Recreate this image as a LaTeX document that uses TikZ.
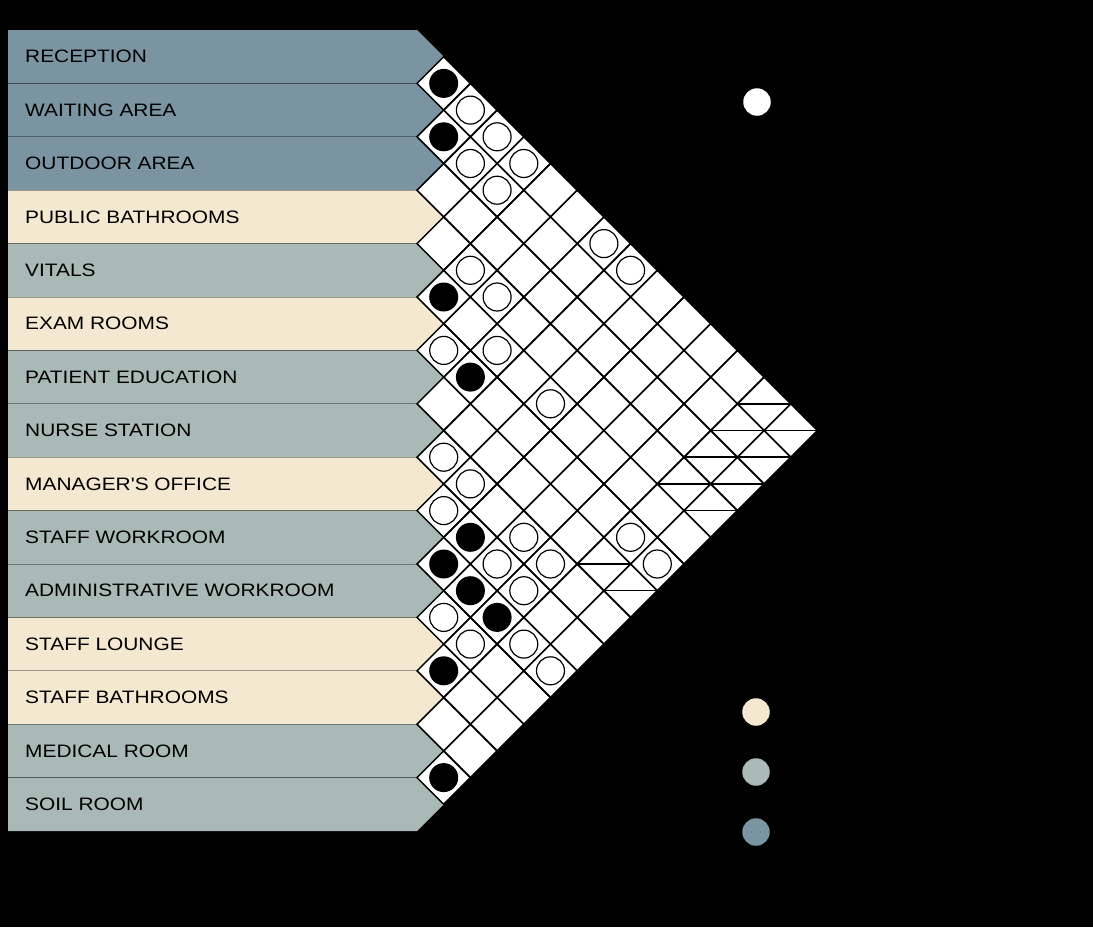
\documentclass[tikz,border=0pt]{standalone}
\usepackage{fontspec}
\newfontfamily\labfont[FakeStretch=1.16]{Liberation Sans}
\definecolor{cblue}{RGB}{122,149,161}
\definecolor{cbeige}{RGB}{245,232,208}
\definecolor{cgray}{RGB}{169,185,181}
\tikzset{
  labeltext/.style={anchor=west, inner sep=0pt, text=black, font=\labfont\fontsize{18}{21}\selectfont},
  sepline/.style={draw=black, draw opacity=0.35, line width=0.8pt},
  gridline/.style={draw=black, line width=1.5pt, line join=miter},
  dotfull/.style={circle, fill=black, minimum size=29pt, inner sep=0pt},
  dotopen/.style={circle, draw=black, fill=white, line width=1.2pt, minimum size=28pt, inner sep=0pt},
  legdot/.style={circle, minimum size=27.5pt, inner sep=0pt},
}
\begin{document}
\begin{tikzpicture}[x=1pt,y=-1pt]
\fill[black] (0,0) rectangle (1093,927);
\useasboundingbox (0,0) rectangle (1093,927);
% label rows
\foreach \n/\t/\c [count=\i] in {
  reception/RECEPTION/cblue,
  waiting/WAITING AREA/cblue,
  outdoor/OUTDOOR AREA/cblue,
  pubbath/PUBLIC BATHROOMS/cbeige,
  vitals/VITALS/cgray,
  exam/EXAM ROOMS/cbeige,
  pated/PATIENT EDUCATION/cgray,
  nurse/NURSE STATION/cgray,
  manager/MANAGER'S OFFICE/cbeige,
  staffwork/STAFF WORKROOM/cgray,
  adminwork/ADMINISTRATIVE WORKROOM/cgray,
  lounge/STAFF LOUNGE/cbeige,
  staffbath/STAFF BATHROOMS/cbeige,
  medical/MEDICAL ROOM/cgray,
  soil/SOIL ROOM/cgray}
{
  \pgfmathsetmacro\yt{30+53.4*(\i-1)}
  \pgfmathsetmacro\yc{\yt+26.7}
  \pgfmathsetmacro\yb{\yt+53.4}
  \fill[\c] (8,\yt) -- (417,\yt) -- (443.7,\yc) -- (417,\yb) -- (8,\yb) -- cycle;
  \node[labeltext] (\n) at (25,\yc) {\t};
}
\foreach \i in {1,...,14}{
  \pgfmathsetmacro\yb{30+53.4*\i}
  \draw[sepline] (8,\yb) -- (417,\yb);
}
% matrix cells: fill
\foreach \i in {1,...,14}{
  \pgfmathtruncatemacro\s{\i+1}
  \foreach \j in {\s,...,15}{
    \pgfmathsetmacro\cx{417+26.7*(\j-\i)}
    \pgfmathsetmacro\cy{30+26.7*(\i+\j-1)}
    \coordinate (c-\i-\j) at (\cx,\cy);
    \fill[white] (\cx-26.7,\cy) -- (\cx,\cy-26.7) -- (\cx+26.7,\cy) -- (\cx,\cy+26.7) -- cycle;
  }
}
% matrix cells: outline
\foreach \i in {1,...,14}{
  \pgfmathtruncatemacro\s{\i+1}
  \foreach \j in {\s,...,15}{
    \pgfmathsetmacro\cx{417+26.7*(\j-\i)}
    \pgfmathsetmacro\cy{30+26.7*(\i+\j-1)}
    \draw[gridline] (\cx-26.7,\cy) -- (\cx,\cy-26.7) -- (\cx+26.7,\cy) -- (\cx,\cy+26.7) -- cycle;
  }
}
% split cells
\foreach \i/\j in {1/14,1/15,2/14,2/15,3/14,3/15,4/14,4/15,7/14,7/15}{
  \draw[gridline] ([xshift=-26.7pt]c-\i-\j) -- ([xshift=26.7pt]c-\i-\j);
}
% full dots
\foreach \i/\j in {1/2,2/3,5/6,6/8,9/11,10/11,10/12,10/13,12/13,14/15}{
  \node[dotfull] (f-\i-\j) at (c-\i-\j) {};
}
% open dots
\foreach \i/\j in {1/3,1/4,2/4,1/5,2/5,1/8,1/9,4/6,4/7,6/7,5/8,5/10,8/9,8/10,9/10,8/12,6/14,9/12,8/13,6/15,9/13,11/12,11/13,10/14,10/15}{
  \node[dotopen] (o-\i-\j) at (c-\i-\j) {};
}
% legend
\node[legdot, fill=white] (legopen) at (757,102) {};
\node[legdot, fill=cbeige] (legbeige) at (756,712) {};
\node[legdot, fill=cgray] (leggray) at (756,772) {};
\node[legdot, fill=cblue] (legblue) at (756,832) {};
\end{tikzpicture}
\end{document}
